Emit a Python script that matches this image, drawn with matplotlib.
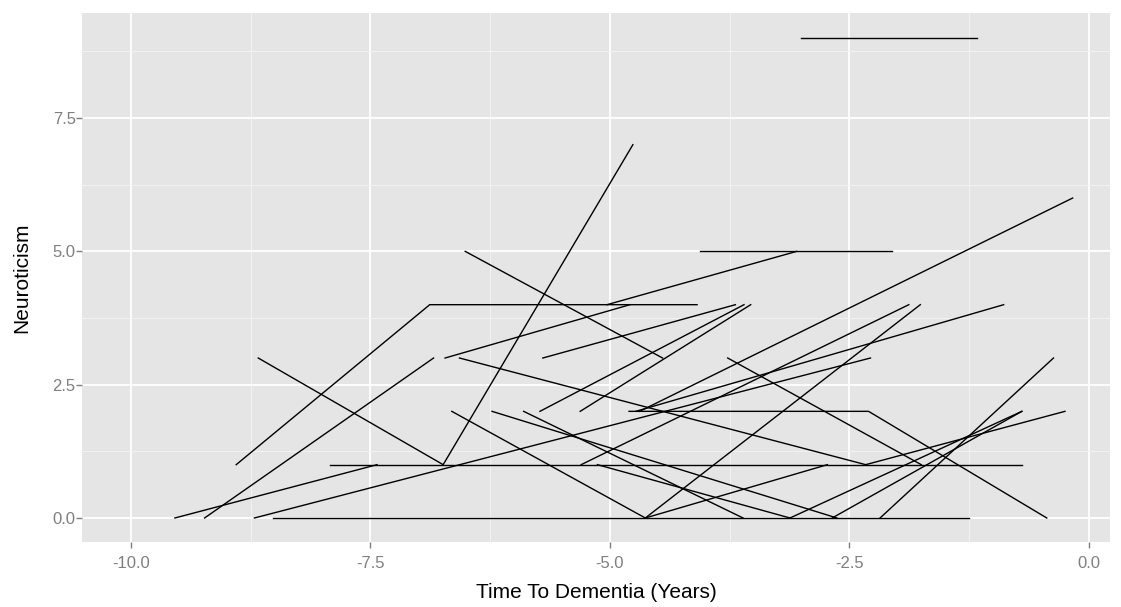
import matplotlib
matplotlib.use('Agg')
import matplotlib.pyplot as plt
from matplotlib.ticker import MultipleLocator

# one trajectory per subject: time to dementia (years) and neuroticism score
subj_x = [
    [-3.00, -1.17],
    [-8.67, -6.74, -4.76],
    [-8.90, -6.88, -4.09],
    [-9.23, -6.84],
    [-9.54, -7.43],
    [-8.71, -2.28],
    [-8.52, -1.25],
    [-7.92, -0.70],
    [-6.72, -4.79],
    [-6.57, -2.33, -0.25],
    [-6.51, -4.45],
    [-5.70, -3.69],
    [-5.73, -3.60],
    [-5.31, -3.53],
    [-6.65, -4.63, -1.76],
    [-4.63, -2.73],
    [-6.23, -2.63],
    [-4.06, -2.06],
    [-5.03, -3.05],
    [-4.69, -0.17],
    [-4.80, -2.30, -0.44],
    [-3.77, -1.75],
    [-3.12, -0.70],
    [-2.68, -0.70],
    [-2.18, -0.37],
    [-4.73, -0.89],
    [-5.30, -1.88],
    [-5.13, -3.12],
    [-5.90, -3.61],
]
subj_y = [
    [9, 9],
    [3, 1, 7],
    [1, 4, 4],
    [0, 3],
    [0, 1],
    [0, 3],
    [0, 0],
    [1, 1],
    [3, 4],
    [3, 1, 2],
    [5, 3],
    [3, 4],
    [2, 4],
    [2, 4],
    [2, 0, 4],
    [0, 1],
    [2, 0],
    [5, 5],
    [4, 5],
    [2, 6],
    [2, 2, 0],
    [3, 1],
    [0, 2],
    [0, 2],
    [0, 3],
    [2, 4],
    [1, 4],
    [1, 0],
    [2, 0],
]

plt.rcParams['font.family'] = ['Liberation Sans', 'DejaVu Sans']

fig = plt.figure(figsize=(11.21, 6.07), dpi=100)
ax = fig.add_axes([0.0731, 0.1071, 0.9171, 0.8715])
ax.set_facecolor('#E5E5E5')

for xs, ys in zip(subj_x, subj_y):
    ax.plot(xs, ys, color='black', lw=1.0, solid_joinstyle='miter', zorder=3)

ax.set_xlim(-10.51, 0.22)
ax.set_ylim(-0.45, 9.47)
ax.xaxis.set_minor_locator(MultipleLocator(1.25))
ax.yaxis.set_minor_locator(MultipleLocator(1.25))
ax.set_xticks([-10, -7.5, -5, -2.5, 0])
ax.set_xticklabels(['-10.0', '-7.5', '-5.0', '-2.5', '0.0'])
ax.set_yticks([0, 2.5, 5, 7.5])
ax.set_yticklabels(['0.0', '2.5', '5.0', '7.5'])
ax.grid(which='major', color='white', lw=1.3, zorder=1)
ax.grid(which='minor', color='#F2F2F2', lw=0.7, zorder=1)
ax.set_axisbelow(True)
for s in ax.spines.values():
    s.set_visible(False)
ax.tick_params(which='major', length=4, width=1, color='#7F7F7F',
               labelcolor='#7F7F7F', labelsize=12)
ax.tick_params(axis='x', pad=6)
ax.tick_params(axis='y', pad=0.5)
ax.tick_params(which='minor', length=0)

ax.set_xlabel('Time To Dementia (Years)', fontsize=15, labelpad=9)
ax.set_ylabel('Neuroticism', fontsize=15, labelpad=15)

fig.savefig('out.png', dpi=100)
